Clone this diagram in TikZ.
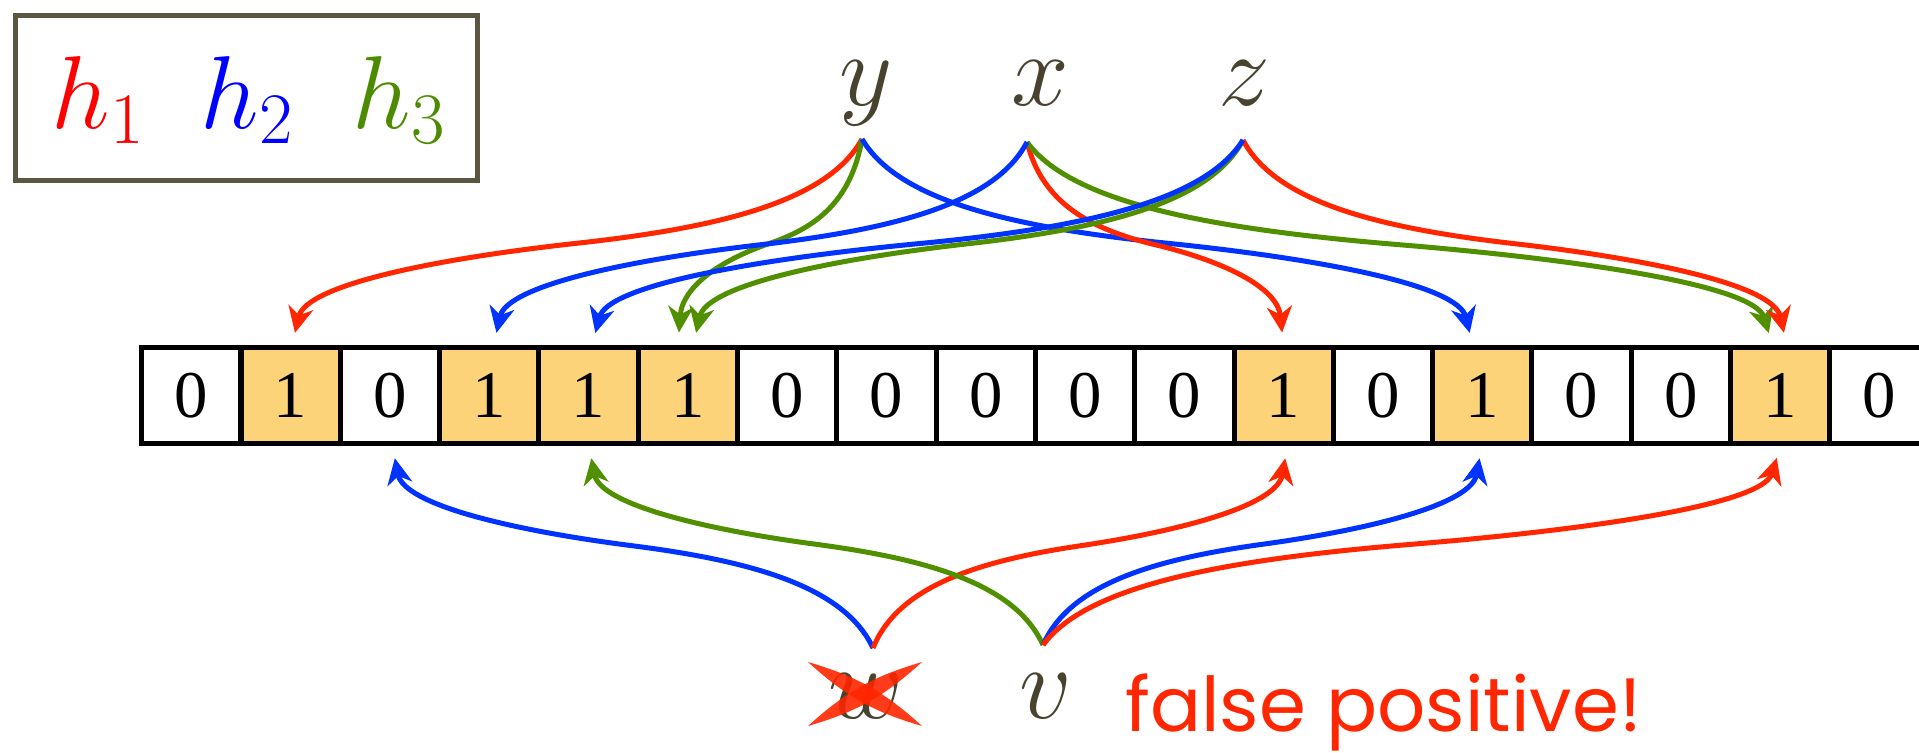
\RequirePackage{fix-cm}
\documentclass[tikz,border=0pt]{standalone}
\usepackage{fontspec}
\setmainfont{Liberation Serif}
\newfontfamily\fpfont{Poppins}
\usetikzlibrary{arrows.meta,calc}
\definecolor{hred}{HTML}{FF0000}
\definecolor{hblue}{HTML}{0000FF}
\definecolor{hgreen}{HTML}{4C8B00}
\definecolor{cred}{HTML}{FF2600}
\definecolor{cblue}{HTML}{0033FF}
\definecolor{cgreen}{HTML}{509000}
\definecolor{vartext}{HTML}{47432F}
\definecolor{legframe}{HTML}{5A5640}
\definecolor{bitfill}{HTML}{FDD37A}
\newcommand\hashcurve[3]{%
  \draw[#1] let \p1=(#2), \p2=(#3), \p3=($(\p2)-(\p1)$) in
   (\p1) .. controls +(\x3*0.06,\y3*0.3) and +(\x3*-0.25,\y3*-0.075) .. ($(\p1)!0.5!(\p2)$)
         .. controls +(\x3*0.25,\y3*0.075) and +(\x3*-0.025,\y3*-0.3) .. (\p2);}
\tikzset{
  bitcell/.style={draw=black, line width=0.1cm, minimum width=1.986cm, minimum height=1.92cm,
    inner sep=0pt, outer sep=0pt, font=\fontsize{38}{40}\selectfont},
  hcurve/.style={line width=0.1cm, shorten >=0.3cm,
    -{Stealth[length=0.52cm,width=0.5cm,inset=0.16cm]}},
  hr/.style={hcurve, draw=cred},
  hb/.style={hcurve, draw=cblue},
  hg/.style={hcurve, draw=cgreen},
  bigmath/.style={font=\fontsize{59}{70}\selectfont, inner sep=0pt, anchor=base},
}
\begin{document}
\begin{tikzpicture}[x=0.02cm, y=-0.02cm]
\useasboundingbox (0,0) rectangle (1919,752);
\fill[white] (0,0) rectangle (1919,752);
% legend
\node[draw=legframe, line width=0.094cm, minimum width=9.248cm, minimum height=3.308cm,
  inner sep=0pt, outer sep=0pt] (legend) at (246.5,98) {};
\node[bigmath, text=hred] (h1) at (98,128) {$h_1$};
\node[bigmath, text=hblue] (h2) at (247,128) {$h_2$};
\node[bigmath, text=hgreen] (h3) at (399,128) {$h_3$};
% elements
\node[bigmath, text=vartext] (y) at (866,105) {$y$};
\node[bigmath, text=vartext] (x) at (1040,105) {$x$};
\node[bigmath, text=vartext] (z) at (1244,105) {$z$};
\node[bigmath, text=vartext] (w) at (866,718) {$w$};
\node[bigmath, text=vartext] (v) at (1046,718) {$v$};
\coordinate (sy) at (862,139);
\coordinate (sx) at (1027,142);
\coordinate (sz) at (1243,140);
\coordinate (sw) at (873,648);
\coordinate (sv) at (1043,645);
% bit array
\foreach \b [count=\i from 0] in {0,1,0,1,1,1,0,0,0,0,0,1,0,1,0,0,1,0} {
  \ifnum\b=1 \def\cellfill{bitfill}\else\def\cellfill{white}\fi
  \node[bitcell, fill=\cellfill] (c\i) at ({191.35+99.3*\i},395.5) {\b};
}
% top curves
\hashcurve{hr}{sy}{[xshift=0.02cm]c1.north}
\hashcurve{hg}{sy}{[xshift=-0.2cm]c5.north}
\hashcurve{hb}{sy}{[xshift=-0.18cm]c13.north}
\hashcurve{hr}{sx}{c11.north}
\hashcurve{hg}{sx}{[xshift=-0.14cm]c16.north}
\hashcurve{hb}{sx}{[xshift=0.08cm]c3.north}
\hashcurve{hg}{sz}{[xshift=0.1cm]c5.north}
\hashcurve{hr}{sz}{[xshift=0.14cm]c16.north}
\hashcurve{hb}{sz}{[xshift=0.06cm]c4.north}
% bottom curves
\hashcurve{hb}{sw}{[xshift=0.04cm]c2.south}
\hashcurve{hr}{sw}{[xshift=0.08cm]c11.south}
\hashcurve{hg}{sv}{c4.south}
\hashcurve{hb}{sv}{c13.south}
\hashcurve{hr}{sv}{[xshift=0.02cm]c16.south}
% cross over w
\coordinate (xa) at (808,662);
\coordinate (xb) at (922,726);
\coordinate (xc) at (922,662);
\coordinate (xd) at (808,726);
\fill[cred, opacity=0.9] (xa) to[bend left=13] (xb) to[bend left=13] (xa);
\fill[cred, opacity=0.9] (xc) to[bend left=13] (xd) to[bend left=13] (xc);
% label
\node[anchor=base west, inner sep=0pt, text=cred, font=\fpfont\fontsize{43}{50}\selectfont]
  (fp) at (1125,731) {false positive!};
\end{tikzpicture}
\end{document}
